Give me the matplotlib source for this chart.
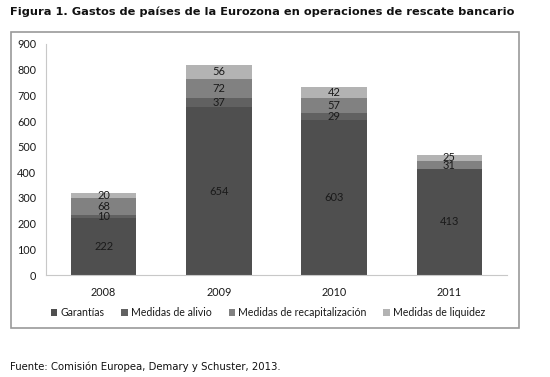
import matplotlib.pyplot as plt
import numpy as np
from matplotlib.patches import Rectangle

years = ["2008", "2009", "2010", "2011"]
garantias = [222, 654, 603, 413]
alivio = [10, 37, 29, 0]
recapitalizacion = [68, 72, 57, 31]
liquidez = [20, 56, 42, 25]

series = [
    ("Garantías", garantias, "#4f4f4f"),
    ("Medidas de alivio", alivio, "#616161"),
    ("Medidas de recapitalización", recapitalizacion, "#818181"),
    ("Medidas de liquidez", liquidez, "#b3b3b3"),
]

fig = plt.figure(figsize=(5.5, 3.77), dpi=100)
ax = fig.add_axes([46 / 550, 1 - 275 / 377, 461 / 550, 231 / 377])

x = np.arange(len(years))
bottom = np.zeros(len(years))
handles = []
for name, vals, color in series:
    vals = np.array(vals, dtype=float)
    b = ax.bar(x, vals, 0.57, bottom=bottom, color=color, label=name)
    handles.append(b)
    for xi, v, bt in zip(x, vals, bottom):
        if v > 0:
            ax.text(xi, bt + v / 2, f"{int(v)}", ha="center", va="center",
                    fontsize=8, family="Lato", color="#1a1a1a")
    bottom += vals

ax.set_xlim(-0.5, 3.5)
ax.set_ylim(0, 900)
ax.set_yticks(range(0, 901, 100))
ax.set_xticks(x)
ax.set_xticklabels(years)
for lab in ax.get_xticklabels() + ax.get_yticklabels():
    lab.set_family("Lato")
    lab.set_fontsize(7.8)
    lab.set_color("#1a1a1a")
ax.tick_params(length=0)
ax.tick_params(axis="y", pad=7)
ax.tick_params(axis="x", pad=9)
for s in ["top", "right"]:
    ax.spines[s].set_visible(False)
ax.spines["left"].set_color("#c8c8c8")
ax.spines["bottom"].set_color("#c8c8c8")

leg = fig.legend(handles=handles, loc="center", bbox_to_anchor=(268 / 550, 1 - 313 / 377),
                 ncol=4, frameon=False, prop={"family": "Lato", "size": 7.6},
                 handlelength=0.6, handleheight=0.6, handletextpad=0.3, columnspacing=1.6)
for t in leg.get_texts():
    t.set_color("#1a1a1a")

fig.patches.append(Rectangle((11 / 550, 1 - 328 / 377), 508 / 550, 296 / 377,
                             transform=fig.transFigure, fill=False,
                             edgecolor="#9a9a9a", linewidth=1.2))

fig.text(10 / 550, 1 - 12 / 377,
         "Figura 1. Gastos de países de la Eurozona en operaciones de rescate bancario",
         fontsize=8.2, fontweight="bold", va="center", ha="left", color="#111111")
fig.text(10 / 550, 1 - 367 / 377, "Fuente: Comisión Europea, Demary y Schuster, 2013.",
         fontsize=7.3, va="center", ha="left", color="#111111")

fig.savefig("out.png", dpi=100)
